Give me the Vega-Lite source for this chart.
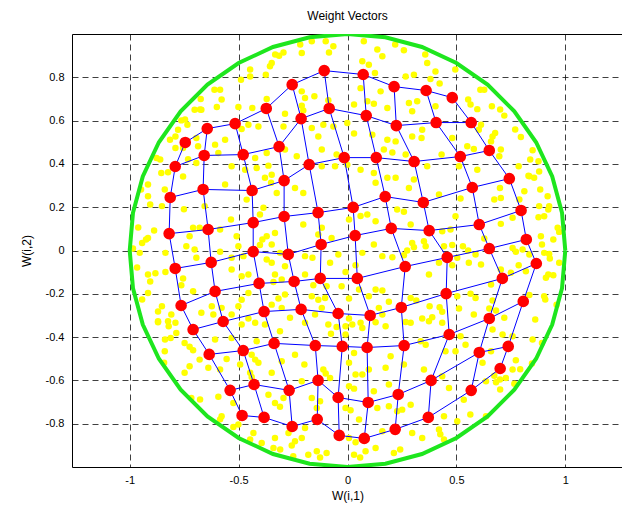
{
"$schema": "https://vega.github.io/schema/vega-lite/v6.json",
"width": 551, "height": 433,
"autosize": {"type": "none"},
"padding": {"left": 72, "top": 34, "right": 0, "bottom": 52},
"background": "white",
"config": {"font": "Liberation Sans", "view": {"stroke": "#000", "strokeWidth": 1}},
"title": {"text": "Weight Vectors", "fontSize": 12, "fontWeight": "normal", "color": "#000", "offset": 11},
"datasets": {
"circle": [
{"k":0,"x":1,"y":0},{"k":1,"x":0.985,"y":0.174},{"k":2,"x":0.94,"y":0.342},{"k":3,"x":0.866,"y":0.5},{"k":4,"x":0.766,"y":0.643},{"k":5,"x":0.643,"y":0.766},{"k":6,"x":0.5,"y":0.866},{"k":7,"x":0.342,"y":0.94},{"k":8,"x":0.174,"y":0.985},{"k":9,"x":0,"y":1},{"k":10,"x":-0.174,"y":0.985},{"k":11,"x":-0.342,"y":0.94},{"k":12,"x":-0.5,"y":0.866},{"k":13,"x":-0.643,"y":0.766},{"k":14,"x":-0.766,"y":0.643},{"k":15,"x":-0.866,"y":0.5},{"k":16,"x":-0.94,"y":0.342},{"k":17,"x":-0.985,"y":0.174},{"k":18,"x":-1,"y":0},{"k":19,"x":-0.985,"y":-0.174},{"k":20,"x":-0.94,"y":-0.342},{"k":21,"x":-0.866,"y":-0.5},{"k":22,"x":-0.766,"y":-0.643},{"k":23,"x":-0.643,"y":-0.766},{"k":24,"x":-0.5,"y":-0.866},{"k":25,"x":-0.342,"y":-0.94},{"k":26,"x":-0.174,"y":-0.985},{"k":27,"x":0,"y":-1},{"k":28,"x":0.174,"y":-0.985},{"k":29,"x":0.342,"y":-0.94},{"k":30,"x":0.5,"y":-0.866},{"k":31,"x":0.643,"y":-0.766},{"k":32,"x":0.766,"y":-0.643},{"k":33,"x":0.866,"y":-0.5},{"k":34,"x":0.94,"y":-0.342},{"k":35,"x":0.985,"y":-0.174},{"k":36,"x":1,"y":0}
],
"nodes": [
{"r":0,"c":0,"x":-0.745,"y":0.499},{"r":0,"c":1,"x":-0.644,"y":0.563},{"r":0,"c":2,"x":-0.516,"y":0.586},{"r":0,"c":3,"x":-0.373,"y":0.656},{"r":0,"c":4,"x":-0.254,"y":0.766},{"r":0,"c":5,"x":-0.107,"y":0.831},{"r":0,"c":6,"x":0.072,"y":0.813},{"r":0,"c":7,"x":0.214,"y":0.757},{"r":0,"c":8,"x":0.361,"y":0.739},{"r":0,"c":9,"x":0.481,"y":0.706},
{"r":1,"c":0,"x":-0.791,"y":0.388},{"r":1,"c":1,"x":-0.658,"y":0.439},{"r":1,"c":2,"x":-0.479,"y":0.443},{"r":1,"c":3,"x":-0.314,"y":0.48},{"r":1,"c":4,"x":-0.213,"y":0.609},{"r":1,"c":5,"x":-0.084,"y":0.656},{"r":1,"c":6,"x":0.086,"y":0.623},{"r":1,"c":7,"x":0.224,"y":0.577},{"r":1,"c":8,"x":0.407,"y":0.591},{"r":1,"c":9,"x":0.568,"y":0.591},
{"r":2,"c":0,"x":-0.814,"y":0.245},{"r":2,"c":1,"x":-0.663,"y":0.282},{"r":2,"c":2,"x":-0.438,"y":0.277},{"r":2,"c":3,"x":-0.291,"y":0.323},{"r":2,"c":4,"x":-0.176,"y":0.397},{"r":2,"c":5,"x":-0.015,"y":0.429},{"r":2,"c":6,"x":0.132,"y":0.429},{"r":2,"c":7,"x":0.306,"y":0.411},{"r":2,"c":8,"x":0.518,"y":0.434},{"r":2,"c":9,"x":0.651,"y":0.462},
{"r":3,"c":0,"x":-0.819,"y":0.078},{"r":3,"c":1,"x":-0.64,"y":0.097},{"r":3,"c":2,"x":-0.433,"y":0.129},{"r":3,"c":3,"x":-0.291,"y":0.157},{"r":3,"c":4,"x":-0.135,"y":0.175},{"r":3,"c":5,"x":0.026,"y":0.199},{"r":3,"c":6,"x":0.173,"y":0.249},{"r":3,"c":7,"x":0.348,"y":0.222},{"r":3,"c":8,"x":0.573,"y":0.291},{"r":3,"c":9,"x":0.743,"y":0.332},
{"r":4,"c":0,"x":-0.791,"y":-0.083},{"r":4,"c":1,"x":-0.626,"y":-0.055},{"r":4,"c":2,"x":-0.433,"y":-0.005},{"r":4,"c":3,"x":-0.272,"y":-0.018},{"r":4,"c":4,"x":-0.121,"y":0.028},{"r":4,"c":5,"x":0.035,"y":0.069},{"r":4,"c":6,"x":0.201,"y":0.102},{"r":4,"c":7,"x":0.375,"y":0.092},{"r":4,"c":8,"x":0.605,"y":0.12},{"r":4,"c":9,"x":0.797,"y":0.185},
{"r":5,"c":0,"x":-0.764,"y":-0.254},{"r":5,"c":1,"x":-0.608,"y":-0.189},{"r":5,"c":2,"x":-0.406,"y":-0.152},{"r":5,"c":3,"x":-0.245,"y":-0.143},{"r":5,"c":4,"x":-0.125,"y":-0.129},{"r":5,"c":5,"x":0.045,"y":-0.129},{"r":5,"c":6,"x":0.265,"y":-0.074},{"r":5,"c":7,"x":0.458,"y":-0.032},{"r":5,"c":8,"x":0.651,"y":0.009},{"r":5,"c":9,"x":0.821,"y":0.051},
{"r":6,"c":0,"x":-0.709,"y":-0.365},{"r":6,"c":1,"x":-0.571,"y":-0.328},{"r":6,"c":2,"x":-0.383,"y":-0.282},{"r":6,"c":3,"x":-0.213,"y":-0.272},{"r":6,"c":4,"x":-0.043,"y":-0.291},{"r":6,"c":5,"x":0.104,"y":-0.3},{"r":6,"c":6,"x":0.247,"y":-0.263},{"r":6,"c":7,"x":0.453,"y":-0.199},{"r":6,"c":8,"x":0.711,"y":-0.129},{"r":6,"c":9,"x":0.867,"y":-0.06},
{"r":7,"c":0,"x":-0.635,"y":-0.48},{"r":7,"c":1,"x":-0.479,"y":-0.462},{"r":7,"c":2,"x":-0.337,"y":-0.429},{"r":7,"c":3,"x":-0.148,"y":-0.439},{"r":7,"c":4,"x":-0.024,"y":-0.443},{"r":7,"c":5,"x":0.09,"y":-0.448},{"r":7,"c":6,"x":0.26,"y":-0.439},{"r":7,"c":7,"x":0.467,"y":-0.388},{"r":7,"c":8,"x":0.651,"y":-0.314},{"r":7,"c":9,"x":0.807,"y":-0.235},
{"r":8,"c":0,"x":-0.539,"y":-0.646},{"r":8,"c":1,"x":-0.429,"y":-0.619},{"r":8,"c":2,"x":-0.268,"y":-0.646},{"r":8,"c":3,"x":-0.135,"y":-0.6},{"r":8,"c":4,"x":-0.043,"y":-0.679},{"r":8,"c":5,"x":0.095,"y":-0.702},{"r":8,"c":6,"x":0.233,"y":-0.665},{"r":8,"c":7,"x":0.384,"y":-0.6},{"r":8,"c":8,"x":0.605,"y":-0.471},{"r":8,"c":9,"x":0.738,"y":-0.443},
{"r":9,"c":0,"x":-0.484,"y":-0.762},{"r":9,"c":1,"x":-0.383,"y":-0.771},{"r":9,"c":2,"x":-0.254,"y":-0.813},{"r":9,"c":3,"x":-0.139,"y":-0.78},{"r":9,"c":4,"x":-0.038,"y":-0.854},{"r":9,"c":5,"x":0.077,"y":-0.868},{"r":9,"c":6,"x":0.219,"y":-0.826},{"r":9,"c":7,"x":0.371,"y":-0.771},{"r":9,"c":8,"x":0.568,"y":-0.646},{"r":9,"c":9,"x":0.701,"y":-0.545}
],
"pts": [
{"x":-0.674,"y":0.7},{"x":-0.671,"y":0.65},{"x":-0.702,"y":0.65},{"x":-0.763,"y":0.601},{"x":-0.735,"y":0.581},{"x":-0.778,"y":0.558},{"x":-0.79,"y":0.527},{"x":-0.694,"y":0.52},{"x":-0.79,"y":0.473},{"x":-0.755,"y":0.473},{"x":-0.686,"y":0.481},{"x":-0.732,"y":0.422},{"x":-0.694,"y":0.404},{"x":-0.877,"y":0.427},{"x":-0.855,"y":0.358},{"x":-0.824,"y":0.361},{"x":-0.755,"y":0.342},
{"x":-0.164,"y":0.966},{"x":-0.1,"y":0.966},{"x":-0.065,"y":0.943},{"x":-0.085,"y":0.915},{"x":-0.21,"y":0.912},{"x":-0.294,"y":0.915},{"x":-0.314,"y":0.9},{"x":-0.348,"y":0.866},{"x":-0.356,"y":0.851},{"x":-0.375,"y":0.812},{"x":-0.447,"y":0.804},{"x":-0.489,"y":0.789},{"x":-0.611,"y":0.743},{"x":-0.578,"y":0.697},{"x":-0.6,"y":0.663},{"x":-0.501,"y":0.663},{"x":-0.437,"y":0.658},{"x":-0.371,"y":0.7},{"x":-0.287,"y":0.632},{"x":-0.21,"y":0.735},{"x":-0.195,"y":0.704},{"x":-0.152,"y":0.712},{"x":-0.21,"y":0.669},{"x":-0.203,"y":0.647},{"x":-0.088,"y":0.694},{"x":-0.164,"y":0.566},{"x":-0.111,"y":0.581},{"x":-0.065,"y":0.573},{"x":-0.134,"y":0.527},{"x":-0.455,"y":0.581},{"x":-0.486,"y":0.561},{"x":-0.409,"y":0.573},{"x":-0.294,"y":0.573},{"x":-0.562,"y":0.512},{"x":-0.608,"y":0.489},{"x":-0.593,"y":0.45},{"x":-0.424,"y":0.427},{"x":-0.371,"y":0.45},{"x":-0.287,"y":0.466},{"x":-0.233,"y":0.435},{"x":-0.118,"y":0.466},{"x":-0.05,"y":0.443},{"x":-0.118,"y":0.389},{"x":-0.532,"y":0.389},{"x":-0.47,"y":0.373},{"x":-0.417,"y":0.381},{"x":-0.363,"y":0.392},{"x":-0.348,"y":0.35},{"x":-0.057,"y":0.389},
{"x":0.075,"y":0.966},{"x":0.137,"y":0.928},{"x":0.16,"y":0.897},{"x":0.259,"y":0.925},{"x":0.068,"y":0.874},{"x":0.098,"y":0.858},{"x":0.126,"y":0.82},{"x":0.267,"y":0.804},{"x":0.305,"y":0.812},{"x":0.366,"y":0.866},{"x":0.404,"y":0.827},{"x":0.381,"y":0.792},{"x":0.423,"y":0.771},{"x":0.152,"y":0.735},{"x":0.06,"y":0.75},{"x":0.03,"y":0.674},{"x":0.091,"y":0.689},{"x":0.121,"y":0.678},{"x":0.183,"y":0.658},{"x":0.282,"y":0.681},{"x":0.32,"y":0.689},{"x":0.297,"y":0.643},{"x":0.404,"y":0.666},{"x":0.554,"y":0.697},{"x":0.565,"y":0.674},{"x":0.596,"y":0.653},{"x":-0.001,"y":0.589},{"x":0.03,"y":0.54},{"x":0.114,"y":0.535},{"x":0.183,"y":0.512},{"x":0.221,"y":0.504},{"x":0.297,"y":0.527},{"x":0.34,"y":0.52},{"x":0.343,"y":0.558},{"x":0.481,"y":0.52},{"x":0.603,"y":0.558},{"x":0.206,"y":0.453},{"x":0.167,"y":0.466},{"x":0.267,"y":0.443},{"x":0.432,"y":0.443},{"x":0.55,"y":0.481},{"x":0.58,"y":0.469},{"x":-0.001,"y":0.396},{"x":0.06,"y":0.373},{"x":0.121,"y":0.358},{"x":0.366,"y":0.389},{"x":0.512,"y":0.389},{"x":0.596,"y":0.373},
{"x":0.628,"y":0.743},{"x":0.663,"y":0.666},{"x":0.72,"y":0.623},{"x":0.613,"y":0.581},{"x":0.666,"y":0.527},{"x":0.678,"y":0.543},{"x":0.659,"y":0.504},{"x":0.704,"y":0.466},{"x":0.796,"y":0.524},{"x":0.697,"y":0.435},{"x":0.85,"y":0.463},{"x":0.786,"y":0.389},{"x":0.877,"y":0.412},{"x":0.831,"y":0.345},{"x":0.88,"y":0.365},
{"x":-0.916,"y":0.305},{"x":-0.839,"y":0.282},{"x":-0.916,"y":0.251},{"x":-0.852,"y":0.205},{"x":-0.751,"y":0.191},{"x":-0.656,"y":0.205},{"x":-0.888,"y":0.092},{"x":-0.916,"y":0.058},{"x":-0.943,"y":0.035},{"x":-0.985,"y":0.009},{"x":-0.954,"y":-0.011},{"x":-0.836,"y":-0.011},{"x":-0.74,"y":0.02},{"x":-0.709,"y":0.105},{"x":-0.725,"y":0.066},{"x":-0.679,"y":0.105},{"x":-0.702,"y":0.005},{"x":-0.694,"y":-0.034},{"x":-0.916,"y":-0.111},{"x":-0.882,"y":-0.105},{"x":-0.836,"y":-0.099},{"x":-0.755,"y":-0.129},{"x":-0.763,"y":-0.16},{"x":-0.709,"y":-0.188},{"x":-0.916,"y":-0.196},{"x":-0.852,"y":-0.257},{"x":-0.809,"y":-0.296},{"x":-0.87,"y":-0.327},{"x":-0.824,"y":-0.327},{"x":-0.671,"y":-0.288},
{"x":-0.562,"y":0.305},{"x":-0.379,"y":0.336},{"x":-0.351,"y":0.313},{"x":-0.325,"y":0.266},{"x":-0.241,"y":0.289},{"x":-0.203,"y":0.266},{"x":-0.463,"y":0.235},{"x":-0.386,"y":0.197},{"x":-0.402,"y":0.166},{"x":-0.535,"y":0.143},{"x":-0.585,"y":0.097},{"x":-0.509,"y":0.066},{"x":-0.391,"y":0.051},{"x":-0.371,"y":0.066},{"x":-0.333,"y":0.081},{"x":-0.348,"y":0.028},{"x":-0.402,"y":0.025},{"x":-0.203,"y":0.12},{"x":-0.134,"y":0.074},{"x":-0.073,"y":0.058},{"x":-0.118,"y":0.105},{"x":-0.501,"y":0.02},{"x":-0.585,"y":-0.006},{"x":-0.532,"y":-0.034},{"x":-0.478,"y":-0.026},{"x":-0.371,"y":-0.042},{"x":-0.31,"y":-0.011},{"x":-0.348,"y":-0.057},{"x":-0.287,"y":-0.073},{"x":-0.195,"y":-0.026},{"x":-0.161,"y":-0.034},{"x":-0.08,"y":-0.057},{"x":-0.042,"y":-0.019},{"x":-0.455,"y":-0.111},{"x":-0.486,"y":-0.119},{"x":-0.532,"y":-0.088},{"x":-0.333,"y":-0.111},{"x":-0.302,"y":-0.134},{"x":-0.34,"y":-0.145},{"x":-0.195,"y":-0.111},{"x":-0.157,"y":-0.16},{"x":-0.096,"y":-0.165},{"x":-0.027,"y":-0.165},{"x":-0.455,"y":-0.196},{"x":-0.486,"y":-0.227},{"x":-0.501,"y":-0.257},{"x":-0.532,"y":-0.296},{"x":-0.623,"y":-0.257},{"x":-0.616,"y":-0.296},{"x":-0.578,"y":-0.265},{"x":-0.287,"y":-0.203},{"x":-0.317,"y":-0.222},{"x":-0.348,"y":-0.25},{"x":-0.302,"y":-0.265},{"x":-0.164,"y":-0.211},{"x":-0.134,"y":-0.227},{"x":-0.103,"y":-0.219},{"x":-0.118,"y":-0.265},{"x":-0.149,"y":-0.296},{"x":-0.264,"y":-0.311},{"x":-0.455,"y":-0.314},{"x":-0.424,"y":-0.334},
{"x":0.129,"y":0.313},{"x":0.183,"y":0.336},{"x":0.221,"y":0.336},{"x":0.305,"y":0.328},{"x":0.282,"y":0.289},{"x":0.42,"y":0.259},{"x":0.519,"y":0.24},{"x":0.496,"y":0.158},{"x":0.228,"y":0.189},{"x":0.259,"y":0.179},{"x":0.091,"y":0.166},{"x":0.06,"y":0.159},{"x":0.007,"y":0.143},{"x":0.129,"y":0.135},{"x":0.29,"y":0.12},{"x":0.435,"y":0.089},{"x":0.473,"y":0.097},{"x":0.121,"y":0.028},{"x":0.068,"y":-0.011},{"x":0.297,"y":0.035},{"x":0.305,"y":0.015},{"x":0.274,"y":0.0},{"x":0.259,"y":-0.022},{"x":0.351,"y":0.043},{"x":0.359,"y":0.02},{"x":0.443,"y":0.02},{"x":0.481,"y":0.025},{"x":0.53,"y":0.02},{"x":0.554,"y":0.0},{"x":0.588,"y":-0.019},{"x":0.504,"y":-0.034},{"x":0.557,"y":-0.057},{"x":0.16,"y":-0.026},{"x":0.206,"y":-0.031},{"x":0.037,"y":-0.068},{"x":-0.009,"y":-0.099},{"x":0.374,"y":-0.111},{"x":0.42,"y":-0.057},{"x":0.481,"y":-0.068},{"x":0.129,"y":-0.18},{"x":0.16,"y":-0.185},{"x":0.098,"y":-0.211},{"x":0.053,"y":-0.18},{"x":0.007,"y":-0.222},{"x":0.19,"y":-0.237},{"x":0.144,"y":-0.265},{"x":0.16,"y":-0.296},{"x":0.29,"y":-0.219},{"x":0.316,"y":-0.231},{"x":0.377,"y":-0.257},{"x":0.423,"y":-0.262},{"x":0.435,"y":-0.283},{"x":0.389,"y":-0.308},{"x":0.343,"y":-0.314},{"x":0.267,"y":-0.33},{"x":0.504,"y":-0.211},{"x":0.565,"y":-0.2},{"x":0.588,"y":-0.219},{"x":0.512,"y":-0.268},{"x":0.58,"y":-0.296},{"x":0.007,"y":-0.314},
{"x":0.835,"y":0.343},{"x":0.857,"y":0.336},{"x":0.7,"y":0.289},{"x":0.674,"y":0.236},{"x":0.704,"y":0.243},{"x":0.789,"y":0.236},{"x":0.812,"y":0.274},{"x":0.919,"y":0.251},{"x":0.88,"y":0.205},{"x":0.926,"y":0.205},{"x":0.877,"y":0.154},{"x":0.903,"y":0.158},{"x":0.758,"y":0.151},{"x":0.704,"y":0.123},{"x":0.965,"y":0.105},{"x":0.972,"y":0.086},{"x":0.888,"y":0.066},{"x":0.893,"y":0.028},{"x":0.628,"y":0.055},{"x":0.758,"y":0.012},{"x":0.804,"y":0.005},{"x":0.773,"y":-0.006},{"x":0.835,"y":-0.019},{"x":0.903,"y":-0.011},{"x":0.926,"y":-0.016},{"x":0.929,"y":-0.037},{"x":0.972,"y":-0.057},{"x":0.613,"y":-0.065},{"x":0.704,"y":-0.088},{"x":0.786,"y":-0.068},{"x":0.819,"y":-0.096},{"x":0.75,"y":-0.103},{"x":0.911,"y":-0.126},{"x":0.945,"y":-0.114},{"x":0.659,"y":-0.157},{"x":0.903,"y":-0.211},{"x":0.835,"y":-0.206},{"x":0.666,"y":-0.231},{"x":0.651,"y":-0.268},{"x":0.682,"y":-0.277},{"x":0.72,"y":-0.311},{"x":0.96,"y":-0.25},
{"x":-0.87,"y":-0.331},{"x":-0.821,"y":-0.35},{"x":-0.79,"y":-0.334},{"x":-0.786,"y":-0.381},{"x":-0.812,"y":-0.404},{"x":-0.748,"y":-0.427},{"x":-0.725,"y":-0.445},{"x":-0.709,"y":-0.461},{"x":-0.839,"y":-0.465},{"x":-0.842,"y":-0.519},{"x":-0.725,"y":-0.535},{"x":-0.748,"y":-0.565},{"x":-0.679,"y":-0.504},{"x":-0.717,"y":-0.681},
{"x":-0.486,"y":-0.342},{"x":-0.379,"y":-0.342},{"x":-0.31,"y":-0.373},{"x":-0.195,"y":-0.334},{"x":-0.088,"y":-0.342},{"x":-0.05,"y":-0.353},{"x":-0.076,"y":-0.384},{"x":-0.608,"y":-0.411},{"x":-0.532,"y":-0.404},{"x":-0.417,"y":-0.419},{"x":-0.493,"y":-0.527},{"x":-0.555,"y":-0.501},{"x":-0.44,"y":-0.481},{"x":-0.424,"y":-0.504},{"x":-0.409,"y":-0.519},{"x":-0.302,"y":-0.512},{"x":-0.241,"y":-0.481},{"x":-0.198,"y":-0.527},{"x":-0.348,"y":-0.565},{"x":-0.639,"y":-0.542},{"x":-0.585,"y":-0.55},{"x":-0.447,"y":-0.565},{"x":-0.44,"y":-0.584},{"x":-0.294,"y":-0.681},{"x":-0.21,"y":-0.604},{"x":-0.111,"y":-0.55},{"x":-0.1,"y":-0.568},{"x":-0.08,"y":-0.589},{"x":-0.593,"y":-0.676},{"x":-0.524,"y":-0.704},{"x":-0.31,"y":-0.722},{"x":-0.363,"y":-0.666},{"x":-0.333,"y":-0.704},{"x":-0.164,"y":-0.681},{"x":-0.126,"y":-0.696},{"x":-0.141,"y":-0.727},{"x":-0.578,"y":-0.766},{"x":-0.501,"y":-0.804},{"x":-0.524,"y":-0.815},{"x":-0.432,"y":-0.843},{"x":-0.333,"y":-0.866},{"x":-0.271,"y":-0.843},{"x":-0.256,"y":-0.901},{"x":-0.241,"y":-0.881},{"x":-0.21,"y":-0.866},{"x":-0.195,"y":-0.82},{"x":-0.18,"y":-0.943},{"x":-0.141,"y":-0.927},{"x":-0.096,"y":-0.935},{"x":-0.394,"y":-0.889},{"x":-0.34,"y":-0.912},{"x":-0.249,"y":-0.95},
{"x":-0.009,"y":-0.35},{"x":0.022,"y":-0.342},{"x":0.06,"y":-0.334},{"x":0.068,"y":-0.358},{"x":0.129,"y":-0.331},{"x":0.175,"y":-0.35},{"x":0.29,"y":-0.334},{"x":0.374,"y":-0.327},{"x":0.435,"y":-0.334},{"x":-0.009,"y":-0.388},{"x":0.336,"y":-0.419},{"x":0.359,"y":-0.435},{"x":0.519,"y":-0.396},{"x":0.542,"y":-0.435},{"x":0.45,"y":-0.465},{"x":0.496,"y":-0.465},{"x":0.198,"y":-0.488},{"x":0.259,"y":-0.527},{"x":0.007,"y":-0.519},{"x":0.03,"y":-0.473},{"x":0.175,"y":-0.542},{"x":0.037,"y":-0.573},{"x":0.068,"y":-0.573},{"x":0.098,"y":-0.55},{"x":0.351,"y":-0.55},{"x":0.435,"y":-0.581},{"x":0.007,"y":-0.627},{"x":0.03,"y":-0.638},{"x":0.121,"y":-0.65},{"x":0.19,"y":-0.619},{"x":0.466,"y":-0.635},{"x":0.534,"y":-0.689},{"x":-0.009,"y":-0.727},{"x":0.014,"y":-0.738},{"x":0.053,"y":-0.781},{"x":0.137,"y":-0.727},{"x":0.19,"y":-0.719},{"x":0.228,"y":-0.743},{"x":0.251,"y":-0.735},{"x":0.29,"y":-0.712},{"x":0.443,"y":-0.766},{"x":0.504,"y":-0.789},{"x":0.16,"y":-0.835},{"x":0.297,"y":-0.843},{"x":0.343,"y":-0.866},{"x":0.42,"y":-0.827},{"x":0.443,"y":-0.873},{"x":0.007,"y":-0.866},{"x":0.037,"y":-0.886},{"x":0.129,"y":-0.912},{"x":0.083,"y":-0.927},{"x":0.03,"y":-0.943},{"x":0.213,"y":-0.935},
{"x":0.666,"y":-0.365},{"x":0.712,"y":-0.388},{"x":0.758,"y":-0.396},{"x":0.85,"y":-0.411},{"x":0.893,"y":-0.427},{"x":0.659,"y":-0.465},{"x":0.773,"y":-0.507},{"x":0.758,"y":-0.55},{"x":0.62,"y":-0.519},{"x":0.674,"y":-0.578},{"x":0.7,"y":-0.596},{"x":0.727,"y":-0.589},{"x":0.636,"y":-0.604},{"x":0.682,"y":-0.609},{"x":0.847,"y":-0.522},{"x":0.766,"y":-0.615},{"x":0.636,"y":-0.766},
{"x":-0.948,"y":0.282},{"x":-0.906,"y":0.212},{"x":-0.961,"y":0.106},{"x":-0.925,"y":0.051},{"x":-0.966,"y":-0.078},{"x":-0.906,"y":-0.143},{"x":-0.943,"y":-0.226},{"x":-0.87,"y":-0.282},{"x":-0.838,"y":-0.411},{"x":-0.86,"y":0.42},{"x":-0.815,"y":0.512},{"x":-0.746,"y":0.605},{"x":-0.677,"y":0.651},{"x":-0.585,"y":0.743},{"x":-0.447,"y":0.836},{"x":-0.332,"y":0.905},{"x":-0.217,"y":0.951},
{"x":0.885,"y":0.282},{"x":0.922,"y":0.189},{"x":0.945,"y":0.051},{"x":0.922,"y":-0.111},{"x":0.908,"y":-0.226},{"x":0.862,"y":-0.319},{"x":0.839,"y":0.42},{"x":0.77,"y":0.559},{"x":0.701,"y":0.651},{"x":0.61,"y":0.743},{"x":0.495,"y":0.836},{"x":0.357,"y":0.905},{"x":0.219,"y":0.951},
{"x":-0.677,"y":-0.688},{"x":-0.585,"y":-0.78},{"x":-0.447,"y":-0.873},{"x":-0.309,"y":-0.919},{"x":-0.126,"y":-0.956},{"x":0.058,"y":-0.956},{"x":0.242,"y":-0.919},{"x":0.426,"y":-0.849},{"x":0.564,"y":-0.757},{"x":0.701,"y":-0.642},{"x":0.793,"y":-0.549}
]
},
"encoding": {
"x": {"field": "x", "type": "quantitative", "scale": {"domain": [-1.265, 1.265], "nice": false, "zero": false},
 "axis": {"values": [-1, -0.5, 0, 0.5, 1], "labelExpr": "datum.value", "grid": true, "gridDash": [6, 4], "gridColor": "#000", "gridOpacity": 0.75, "domain": false, "ticks": false, "labelFontSize": 11, "labelColor": "#000", "labelPadding": 7, "title": "W(i,1)", "titleFontSize": 12, "titleFontWeight": "normal", "titleColor": "#000", "titlePadding": 5}},
"y": {"field": "y", "type": "quantitative", "scale": {"domain": [-1, 1], "nice": false, "zero": false},
 "axis": {"values": [-0.8, -0.6, -0.4, -0.2, 0, 0.2, 0.4, 0.6, 0.8], "labelExpr": "datum.value", "grid": true, "gridDash": [6, 4], "gridColor": "#000", "gridOpacity": 0.75, "domain": false, "ticks": false, "labelFontSize": 11, "labelColor": "#000", "labelPadding": 8, "title": "W(i,2)", "titleFontSize": 12, "titleFontWeight": "normal", "titleColor": "#000", "titlePadding": 12}}
},
"layer": [
{"data": {"name": "pts"}, "mark": {"type": "circle", "color": "#ffff00", "opacity": 1, "size": 42}},
{"data": {"name": "circle"}, "mark": {"type": "line", "color": "#1ee61e", "strokeWidth": 4, "clip": true}, "encoding": {"order": {"field": "k", "type": "quantitative"}}},
{"data": {"name": "nodes"}, "mark": {"type": "line", "color": "#0000ff", "strokeWidth": 1}, "encoding": {"detail": {"field": "r"}, "order": {"field": "c", "type": "quantitative"}}},
{"data": {"name": "nodes"}, "mark": {"type": "line", "color": "#0000ff", "strokeWidth": 1}, "encoding": {"detail": {"field": "c"}, "order": {"field": "r", "type": "quantitative"}}},
{"data": {"name": "nodes"}, "mark": {"type": "circle", "color": "#ff0000", "opacity": 1, "size": 135}}
]
}
